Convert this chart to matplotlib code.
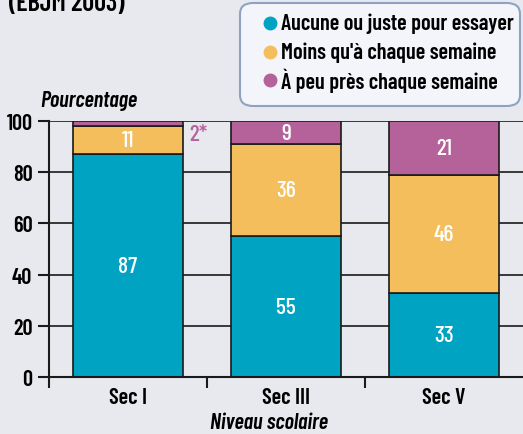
import matplotlib.pyplot as plt
from matplotlib.patches import FancyBboxPatch

# data
niveaux = ['Sec I', 'Sec III', 'Sec V']
aucune = [87, 55, 33]
moins = [11, 36, 46]
chaque = [2, 9, 21]
series_labels = ['Aucune ou juste pour essayer', "Moins qu'à chaque semaine", 'À peu près chaque semaine']
colors = ['#00a3c2', '#f5be5c', '#b5629b']

plt.rcParams['font.family'] = ['Barlow Condensed', 'Roboto Condensed', 'DejaVu Sans']
plt.rcParams['font.weight'] = 600

bg = '#e8e9ee'
ink = '#1a1a1a'
fig = plt.figure(figsize=(5.23, 4.35), dpi=100, facecolor=bg)
ax = fig.add_axes([49 / 523, 1 - 378 / 435, 1 - 49 / 523, (378 - 122) / 435])
ax.set_facecolor(bg)

x = range(len(niveaux))
w = 0.7
ax.set_axisbelow(True)
ax.yaxis.grid(True, color=ink, lw=1.2)
ax.bar(x, aucune, w, color=colors[0], edgecolor=ink, lw=1.2)
ax.bar(x, moins, w, bottom=aucune, color=colors[1], edgecolor=ink, lw=1.2)
bottom2 = [a + m for a, m in zip(aucune, moins)]
ax.bar(x, chaque, w, bottom=bottom2, color=colors[2], edgecolor=ink, lw=1.2)

fs = 17
for i in x:
    ax.text(i, aucune[i] / 2, str(aucune[i]), ha='center', va='center', color='white', fontsize=fs, weight=500)
    ax.text(i, aucune[i] + moins[i] / 2, str(moins[i]), ha='center', va='center', color='white', fontsize=fs, weight=500)
    if chaque[i] >= 5:
        ax.text(i, bottom2[i] + chaque[i] / 2, str(chaque[i]), ha='center', va='center', color='white',
                fontsize=fs, weight=500)
    else:
        # small value written beside the bar
        ax.text(i + w / 2 + 0.04, bottom2[i] + chaque[i] / 2 - 4, f'{chaque[i]}*', ha='left', va='center',
                color=colors[2], fontsize=fs, weight=500)

ax.set_xlim(-0.5, 2.5)
ax.set_ylim(0, 100)
ax.set_yticks(range(0, 101, 20))
ax.set_xticks([-0.5, 0.5, 1.5])
ax.set_xticklabels([])
ax.set_xticks(list(x), minor=True)
ax.set_xticklabels(niveaux, minor=True, fontsize=16)
ax.tick_params(axis='x', which='minor', length=0, pad=7)
ax.tick_params(axis='x', which='major', length=8, width=1.5, color=ink)
ax.tick_params(axis='y', length=8, width=1.5, labelsize=16, color=ink, pad=4)
for s in ['top', 'right']:
    ax.spines[s].set_visible(False)
for s in ['left', 'bottom']:
    ax.spines[s].set_linewidth(1.5)
    ax.spines[s].set_color(ink)

fig.text(40 / 523, 1 - 101 / 435, 'Pourcentage', style='italic', fontsize=16, va='center', ha='left')
fig.text(269 / 523, 1 - 423 / 435, 'Niveau scolaire', style='italic', fontsize=16, va='center', ha='center')
fig.text(9 / 523, 1 - 4 / 435, '(EBJM 2003)', fontsize=19, va='center', ha='left')

# legend box
box = FancyBboxPatch((240 / 523, 1 - 107 / 435), 280 / 523, 103 / 435,
                     boxstyle='round,pad=0,rounding_size=0.025', transform=fig.transFigure,
                     facecolor='#f3f5fa', edgecolor='#8fa3c0', lw=1.5)
fig.patches.append(box)
for k, (lab, c) in enumerate(zip(series_labels, colors)):
    yy = 1 - (24 + k * 28.5) / 435
    fig.lines.append(plt.Line2D([270 / 523], [yy], marker='o', ms=9, color=c, mec=c,
                                transform=fig.transFigure))
    fig.text(281 / 523, yy, lab, fontsize=16, va='center', ha='left')

fig.savefig('out.png', dpi=100, facecolor=bg)
